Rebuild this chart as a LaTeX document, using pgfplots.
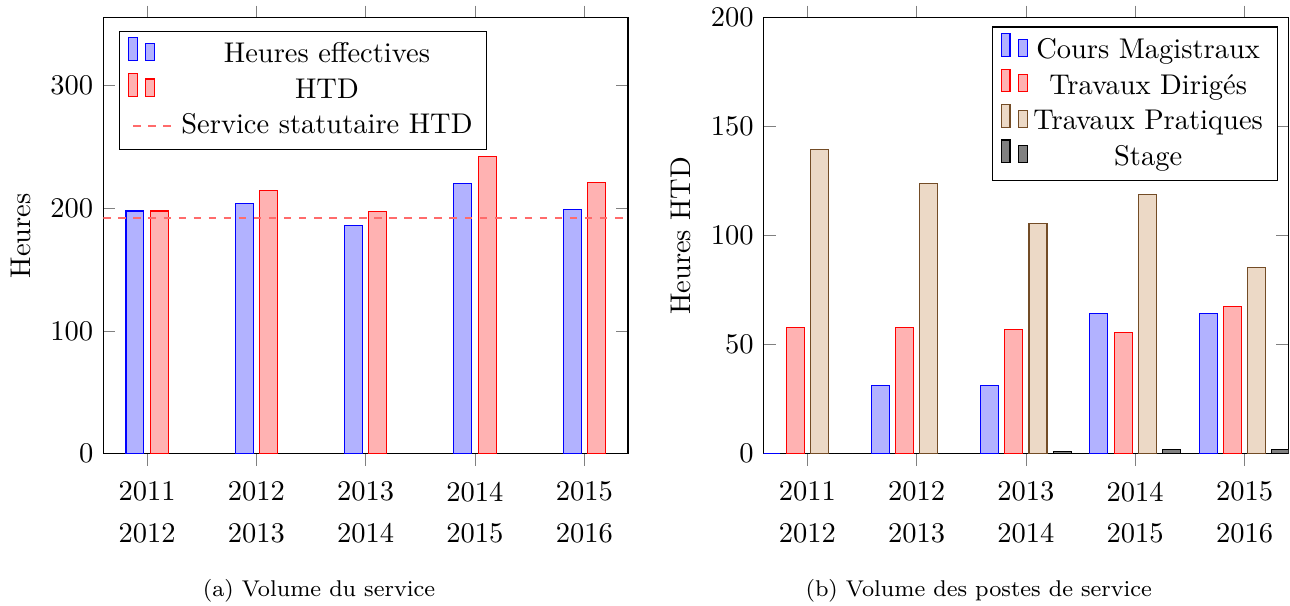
\documentclass[border=0pt]{standalone}
\usepackage{pgfplots}
\pgfplotsset{compat=1.18}
\definecolor{statline}{rgb}{1,0.42,0.42}
\pgfplotsset{short line legend/.style={legend image code/.code={\draw[##1] (0pt,0pt) -- (14.6pt,0pt);}}}
\begin{document}
\begin{tikzpicture}
\useasboundingbox (0,0) rectangle (452.6pt,212.3pt);
\pgfplotsset{
  mybars/.style={
    ybar, bar width=6.3pt,
    scale only axis, width=184.1pt, height=153pt,
    xmin=-0.4, xmax=4.4, ymin=0,
    xtick={0,1,2,3,4},
    xticklabels={{2011\\[2.6pt]2012},{2012\\[2.6pt]2013},{2013\\[2.6pt]2014},{2014\\[2.6pt]2015},{2015\\[2.6pt]2016}},
    x tick label style={align=center, yshift=-2.1pt},
    xtick align=outside,
  }
}
\begin{axis}[mybars, at={(36.25pt,53.1pt)}, anchor=south west,
  ymax=355, ytick={0,100,200,300},
  ylabel={Heures},
  legend pos=north west]
\addplot+[bar shift=-4.25pt] coordinates {(0,197.6) (1,203.8) (2,185.9) (3,220.1) (4,198.9)};
\addlegendentry{Heures effectives}
\addplot+[bar shift=4.25pt] coordinates {(0,197.6) (1,214.4) (2,197.3) (3,242.3) (4,220.9)};
\addlegendentry{HTD}
\addlegendimage{short line legend, color=statline, line width=0.7pt, dash pattern=on 2.64pt off 2.64pt}
\addlegendentry{Service statutaire HTD}
\end{axis}
\begin{axis}[scale only axis, width=184.1pt, height=153pt,
  at={(36.25pt,53.1pt)}, anchor=south west,
  xmin=-0.4, xmax=4.4, ymin=0, ymax=355, hide axis]
\addplot[color=statline, line width=0.7pt, dash pattern=on 2.64pt off 2.64pt] coordinates {(-0.4,192) (4.4,192)};
\end{axis}
\begin{axis}[mybars, at={(267.9pt,53.1pt)}, anchor=south west,
  ymax=200, ytick={0,50,100,150,200},
  ylabel={Heures HTD}]
\addplot+[bar shift=-12.75pt] coordinates {(0,0) (1,31.5) (2,31.5) (3,64.5) (4,64.5)};
\addlegendentry{Cours Magistraux}
\addplot+[bar shift=-4.25pt] coordinates {(0,58) (1,58) (2,57) (3,55.5) (4,67.5)};
\addlegendentry{Travaux Dirigés}
\addplot+[bar shift=4.25pt] coordinates {(0,139.5) (1,124) (2,105.5) (3,119) (4,85.5)};
\addlegendentry{Travaux Pratiques}
\addplot+[bar shift=12.75pt] coordinates {(0,0) (1,0) (2,1) (3,2) (4,2)};
\addlegendentry{Stage}
\end{axis}
\node[anchor=base, font=\footnotesize] at (111.9pt,3pt) {(a) Volume du service};
\node[anchor=base, font=\footnotesize] at (343.4pt,3pt) {(b) Volume des postes de service};
\end{tikzpicture}
\end{document}
